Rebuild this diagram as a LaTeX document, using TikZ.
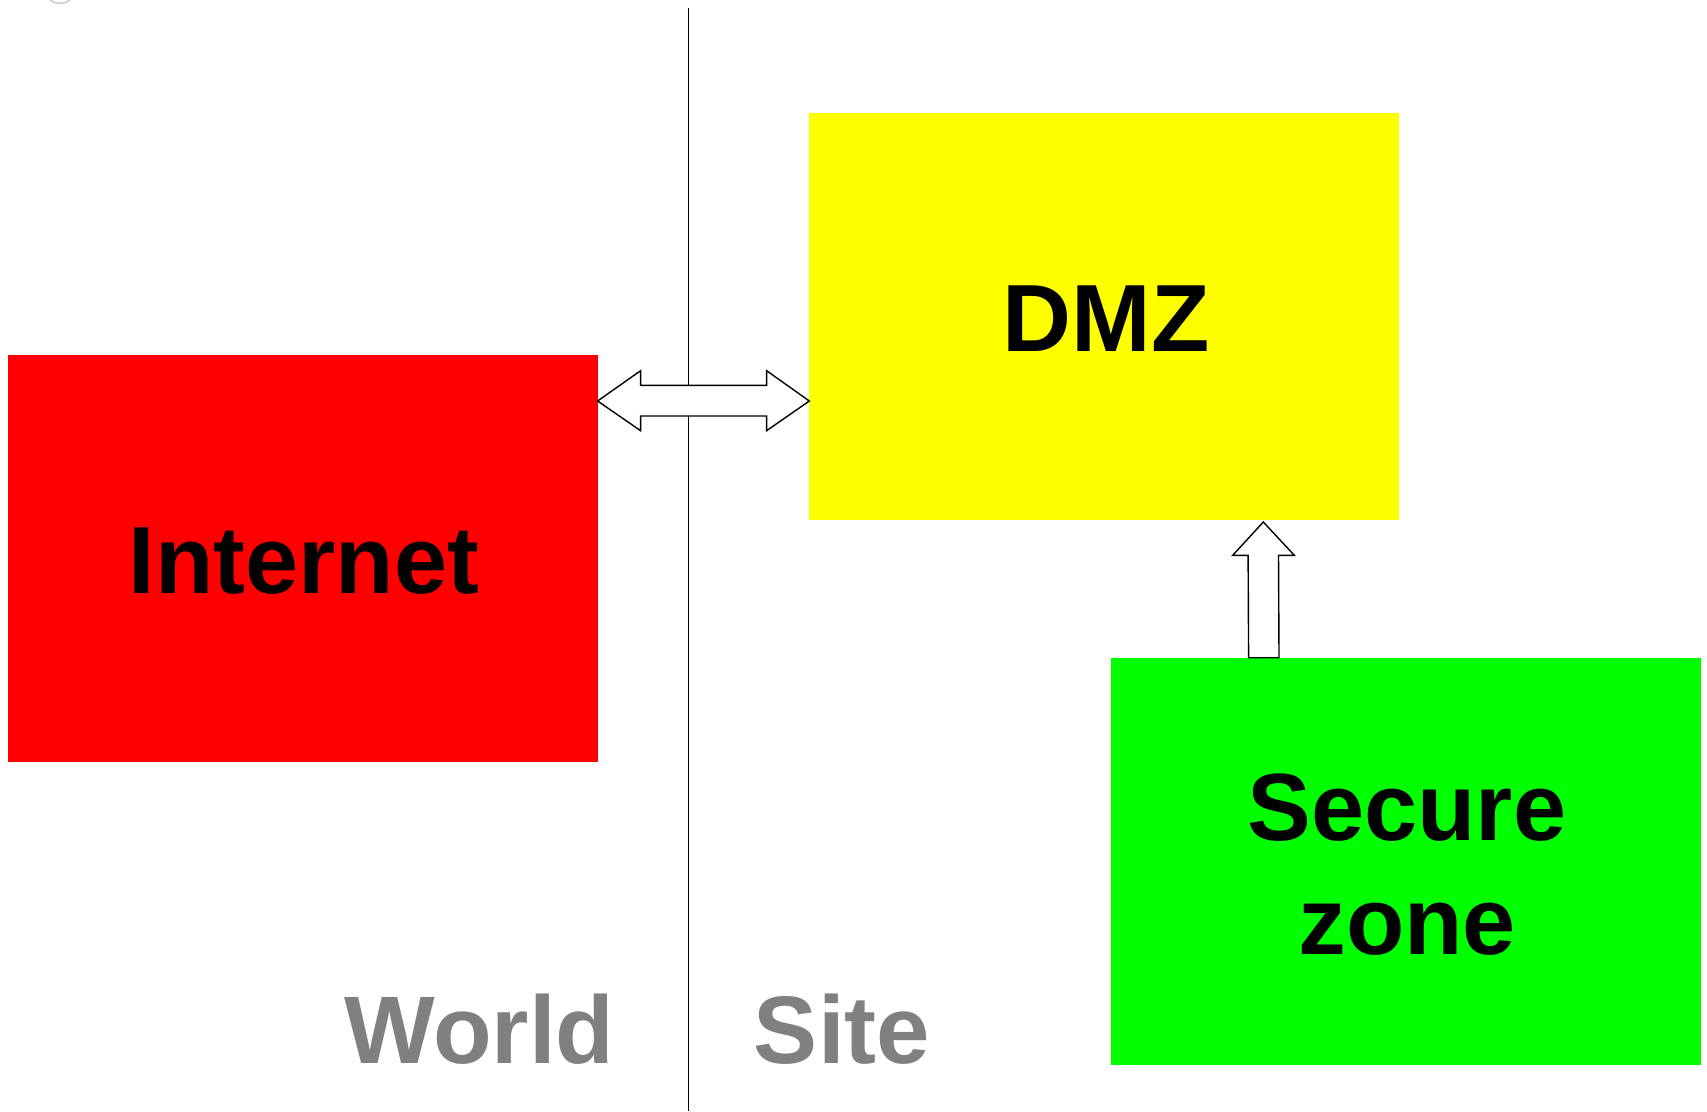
\documentclass[tikz,border=0pt]{standalone}
\usepackage{fontspec}
\setmainfont{Liberation Sans}
\usetikzlibrary{calc}
\definecolor{netred}{RGB}{255,0,0}
\definecolor{dmzyellow}{RGB}{255,255,0}
\definecolor{securegreen}{RGB}{0,255,0}
\definecolor{labelgray}{RGB}{128,128,128}
\definecolor{markgray}{RGB}{205,205,205}
\begin{document}
\begin{tikzpicture}[x=1pt,y=-1pt,
  zonebox/.style={minimum width=590pt,minimum height=407pt,inner sep=0pt,outer sep=0pt,anchor=north west,draw=none},
  zonelabel/.style={anchor=base,inner sep=0pt,align=center,font=\fontsize{95.5}{114}\selectfont\bfseries},
  sidelabel/.style={anchor=base,inner sep=0pt,text=labelgray,font=\fontsize{96}{114}\selectfont\bfseries},
  blockarrow/.style={draw=black,fill=white,line width=1.4pt,line join=miter},
  divider/.style={draw=black,line width=1.3pt}]
\useasboundingbox (0,0) rectangle (1707,1111);

% faint mark in the top corner
\begin{scope}
  \clip (0,0) rectangle (1707,1111);
  \draw[markgray,line width=1.5pt] (60,-13.5) circle (16.8);
\end{scope}

% dividing line between the world and the site
\coordinate (divtop) at (688.7,7.6);
\coordinate (divbot) at (688.7,1111);
\draw[divider] (divtop) -- (divbot);

% zones
\node[zonebox,fill=netred] (inet) at (7.6,355) {};
\node[zonebox,fill=dmzyellow] (dmz) at (809.3,113) {};
\node[zonebox,fill=securegreen] (secure) at (1110.5,657.7) {};

\node[zonelabel] (inetlabel) at (303.9,593.3) {Internet};
\node[zonelabel] (dmzlabel) at (1106,351.7) {DMZ};
\node[zonelabel] (securelabel) at (1407,954) {Secure\\zone};

% two-way block arrow between Internet and DMZ
\coordinate (lt) at ($(inet.north east)+(0,46)$);
\coordinate (rt) at ($(dmz.west |- lt)$);
\draw[blockarrow] (lt) -- ++(43,-30.3) -- ++(0,14.6) -- ($(rt)+(-42.7,-15.7)$) -- ++(0,-14.6)
  -- (rt) -- ++(-42.7,29.7) -- ++(0,-14.7) -- ($(lt)+(43,15)$) -- ++(0,14.7) -- cycle;

% one-way block arrow from the secure zone up to the DMZ
\coordinate (ub) at ($(secure.north west)+(153.3,0)$);
\coordinate (ut) at ($(dmz.south west)+(454,2)$);
\draw[blockarrow] (ut) -- ($(ut)+(31,33.3)$) -- ($(ut)+(15.2,33.3)$) -- ($(ub)+(15.2,0)$)
  -- ($(ub)+(-15.2,0)$) -- ($(ut)+(-15.2,33.3)$) -- ($(ut)+(-30.6,33.3)$) -- cycle;

% side labels
\node[sidelabel] (world) at (479.5,1063.5) {World};
\node[sidelabel] (site) at (842,1063.5) {Site};
\end{tikzpicture}
\end{document}
